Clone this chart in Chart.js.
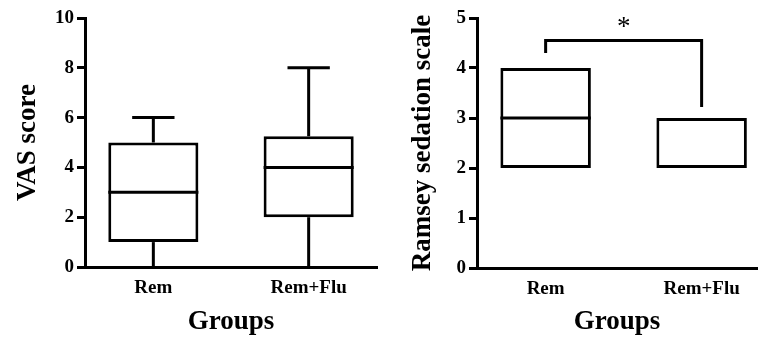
<!DOCTYPE html>
<html lang="en">
<head>
  <meta charset="UTF-8">
  <title>VAS score and Ramsey sedation scale</title>
  <style>
    body { margin: 0; background: #fff; }
    #wrap { position: relative; width: 758px; height: 338px; overflow: hidden; }
    #vasChart { position: absolute; left: 0; top: 0; }
    #ramseyChart { position: absolute; left: 380px; top: 0; }
  </style>
</head>
<body>
  <div id="wrap">
    <canvas id="vasChart" width="380" height="338"></canvas>
    <canvas id="ramseyChart" width="378" height="338"></canvas>
  </div>

  <script src="https://cdn.jsdelivr.net/npm/chart.js"></script>
  <script>
    const groups = ['Rem', 'Rem+Flu'];

    // box plot stats per group
    const vasMin = [0, 0];
    const vasQ1 = [1, 2];
    const vasMedian = [3, 4];
    const vasQ3 = [5, 5.25];
    const vasMax = [6, 8];
    const vasTicks = [0, 2, 4, 6, 8, 10];

    const ramseyMin = [2, 2];
    const ramseyQ1 = [2, 2];
    const ramseyMedian = [3, 3];
    const ramseyQ3 = [4, 3];
    const ramseyMax = [4, 3];
    const ramseyTicks = [0, 1, 2, 3, 4, 5];

    // significance bracket between the two Ramsey groups (values on the y scale)
    const sigFrom = 0, sigTo = 1;
    const sigLeftEnd = 4.3, sigTop = 4.55, sigRightEnd = 3.22, sigLabelY = 4.9;
    const sigLabel = '*';

    const serif = "'Liberation Serif', 'Times New Roman', serif";

    // draws median line and whiskers on top of the floating bars
    const boxPlugin = {
      id: 'boxParts',
      afterDatasetsDraw(chart, args, opts) {
        const ctx = chart.ctx;
        const x = chart.scales.x, y = chart.scales.y;
        const meta = chart.getDatasetMeta(0);
        ctx.save();
        ctx.strokeStyle = '#000';
        ctx.lineWidth = 3;
        ctx.lineCap = 'butt';
        groups.forEach((g, i) => {
          const cx = x.getPixelForValue(i);
          const half = meta.data[i].width / 2;
          const cap = half * opts.capRatio;
          if (opts.median[i] > opts.q1[i] && opts.median[i] < opts.q3[i]) {
            ctx.beginPath();
            ctx.moveTo(cx - half, y.getPixelForValue(opts.median[i]));
            ctx.lineTo(cx + half, y.getPixelForValue(opts.median[i]));
            ctx.stroke();
          }
          if (opts.max[i] > opts.q3[i]) {
            ctx.beginPath();
            ctx.moveTo(cx, y.getPixelForValue(opts.q3[i]));
            ctx.lineTo(cx, y.getPixelForValue(opts.max[i]));
            ctx.moveTo(cx - cap, y.getPixelForValue(opts.max[i]));
            ctx.lineTo(cx + cap, y.getPixelForValue(opts.max[i]));
            ctx.stroke();
          }
          if (opts.min[i] < opts.q1[i]) {
            ctx.beginPath();
            ctx.moveTo(cx, y.getPixelForValue(opts.q1[i]));
            ctx.lineTo(cx, y.getPixelForValue(opts.min[i]));
            if (opts.min[i] > y.min) {
              ctx.moveTo(cx - cap, y.getPixelForValue(opts.min[i]));
              ctx.lineTo(cx + cap, y.getPixelForValue(opts.min[i]));
            }
            ctx.stroke();
          }
        });
        if (opts.sig) {
          const x1 = x.getPixelForValue(sigFrom), x2 = x.getPixelForValue(sigTo);
          ctx.beginPath();
          ctx.moveTo(x1, y.getPixelForValue(sigLeftEnd));
          ctx.lineTo(x1, y.getPixelForValue(sigTop));
          ctx.lineTo(x2, y.getPixelForValue(sigTop));
          ctx.lineTo(x2, y.getPixelForValue(sigRightEnd));
          ctx.stroke();
          ctx.fillStyle = '#000';
          ctx.font = '27px ' + serif;
          ctx.textAlign = 'center';
          ctx.textBaseline = 'middle';
          ctx.fillText(sigLabel, (x1 + x2) / 2, y.getPixelForValue(sigLabelY) + 5);
        }
        ctx.restore();
      }
    };

    function makeChart(id, cfg) {
      const ctx = document.getElementById(id).getContext('2d');
      return new Chart(ctx, {
        type: 'bar',
        data: {
          datasets: [{
            data: groups.map((g, i) => ({ x: i, y: [cfg.q1[i], cfg.q3[i]] })),
            backgroundColor: '#fff',
            borderColor: '#000',
            borderWidth: 3,
            borderSkipped: false,
            barPercentage: 0.58,
            categoryPercentage: 1
          }]
        },
        options: {
          responsive: false,
          animation: false,
          devicePixelRatio: 1,
          layout: { padding: { top: 18, right: cfg.padRight, left: 0, bottom: 0 } },
          plugins: {
            legend: { display: false },
            tooltip: { enabled: false },
            boxParts: {
              median: cfg.median, q1: cfg.q1, q3: cfg.q3, min: cfg.min, max: cfg.max,
              capRatio: 0.47, sig: cfg.sig
            }
          },
          scales: {
            x: {
              type: 'linear',
              offset: false,
              bounds: 'data',
              min: -0.44,
              max: cfg.xMax,
              afterDataLimits: s => { s.min = -0.44; s.max = cfg.xMax; },
              afterBuildTicks: s => {
                s.ticks = groups.map((g, i) => ({ value: i }));
                s.min = -0.44; s.max = cfg.xMax;
              },
              grid: { display: false, drawTicks: false, offset: false },
              border: { display: true, color: '#000', width: 3 },
              ticks: {
                color: '#000', padding: 10, maxRotation: 0,
                font: { family: serif, size: 19, weight: 'bold' },
                callback: v => groups[v]
              },
              title: {
                display: true, text: 'Groups', color: '#000',
                font: { family: serif, size: 27, weight: 'bold' },
                padding: { top: 0, bottom: 0 }
              },
              afterFit: s => { s.height = cfg.xHeight; }
            },
            y: {
              min: 0,
              max: cfg.ticks[cfg.ticks.length - 1],
              afterBuildTicks: s => { s.ticks = cfg.ticks.map(v => ({ value: v })); },
              grid: { display: true, drawOnChartArea: false, drawTicks: true, tickLength: 8, tickWidth: 3, tickColor: '#000' },
              border: { display: true, color: '#000', width: 3 },
              ticks: { color: '#000', padding: 3, font: { family: serif, size: 19, weight: 'bold' } },
              title: {
                display: true, text: cfg.title, color: '#000',
                font: { family: serif, size: 27, weight: 'bold' },
                padding: { top: cfg.titlePad, bottom: 0 }
              },
              afterFit: s => { s.width = cfg.yWidth; }
            }
          }
        },
        plugins: [boxPlugin]
      });
    }

    makeChart('vasChart', {
      q1: vasQ1, q3: vasQ3, median: vasMedian, min: vasMin, max: vasMax, ticks: vasTicks,
      title: 'VAS score', yWidth: 85, xHeight: 71, padRight: 3, xMax: 1.44, titlePad: 12, sig: false
    });

    makeChart('ramseyChart', {
      q1: ramseyQ1, q3: ramseyQ3, median: ramseyMedian, min: ramseyMin, max: ramseyMax, ticks: ramseyTicks,
      title: 'Ramsey sedation scale', yWidth: 97, xHeight: 70, padRight: 1, xMax: 1.355, titlePad: 27, sig: true
    });
  </script>
</body>
</html>
